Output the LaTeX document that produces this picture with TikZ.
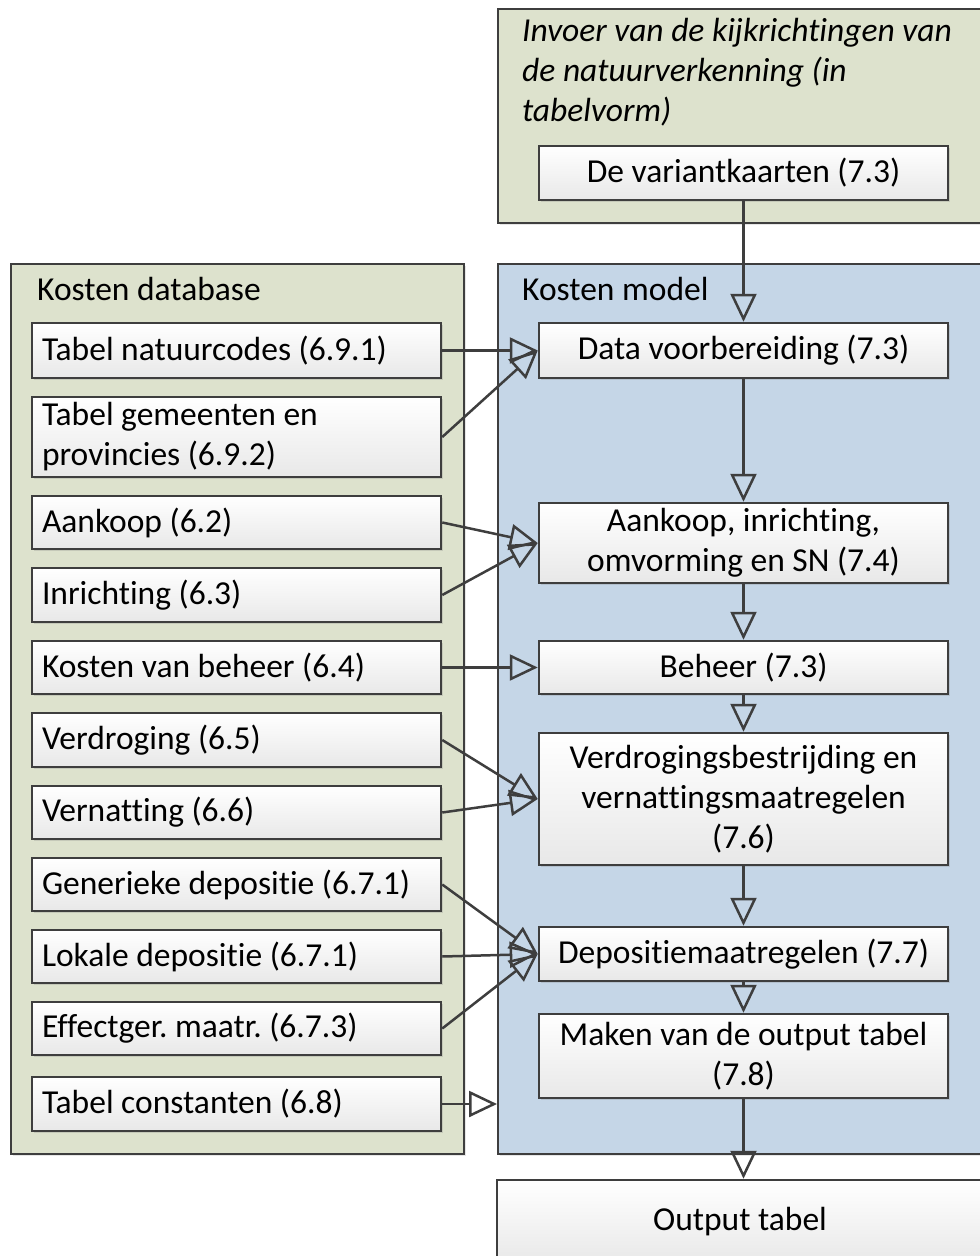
\documentclass[tikz,border=0pt]{standalone}
\usepackage{fontspec}
\setmainfont{Carlito}[Ligatures=NoCommon]
\usepackage{tikz}
\usetikzlibrary{arrows.meta,shadows}
\definecolor{dbgroen}{RGB}{221,226,205}
\definecolor{modelblauw}{RGB}{197,214,231}
\definecolor{lijn}{RGB}{62,62,62}
\frenchspacing

\begin{document}
\begin{tikzpicture}[x=1pt,y=-1pt,
    font=\fontsize{33.5}{40}\selectfont,
    groep/.style={draw=lijn, line width=1.5pt, anchor=north west, inner sep=0pt,
        drop shadow={shadow xshift=2pt, shadow yshift=-2pt, opacity=0.2}},
    blok/.style={draw=lijn, line width=2.5pt, top color=white, bottom color=black!9,
        minimum width=409pt, inner xsep=10pt, inner ysep=0pt,
        drop shadow={shadow xshift=2pt, shadow yshift=-2pt, opacity=0.25}},
    links/.style={blok, align=flush left, text width=389pt},
    rechts/.style={blok, align=center},
    pijl/.style={draw=lijn, line width=2.5pt, -{Triangle[open, length=28pt, width=26pt]}}
]
    \useasboundingbox (0,0) rectangle (980,1256);

    % Containers
    \node[groep, fill=dbgroen, minimum width=488pt, minimum height=214pt] (invoer) at (497,8) {};
    \node[groep, fill=dbgroen, minimum width=453pt, minimum height=890pt] (kdb) at (10,263) {};
    \node[groep, fill=modelblauw, minimum width=488pt, minimum height=890pt] (km) at (497,263) {};

    % Titels
    \node[anchor=north west, inner sep=0pt, align=left, font=\fontsize{33.5}{40}\selectfont\itshape]
        (invoertitel) at (522,18) {Invoer van de kijkrichtingen van\\de natuurverkenning (in\\tabelvorm)};
    \node[anchor=base west, inner sep=0pt] (kdbtitel) at (37,300) {Kosten database};
    \node[anchor=base west, inner sep=0pt] (kmtitel) at (522,300) {Kosten model};

    % Kosten database
    \node[links, minimum height=55pt] (tn) at (236.5,350.5) {Tabel natuurcodes (6.9.1)};
    \node[links, minimum height=80pt] (tg) at (236.5,437) {Tabel gemeenten en\\provincies (6.9.2)};
    \node[links, minimum height=53pt] (ak) at (236.5,522.5) {Aankoop (6.2)};
    \node[links, minimum height=54pt] (ir) at (236.5,595) {Inrichting (6.3)};
    \node[links, minimum height=53pt] (kb) at (236.5,667.5) {Kosten van beheer (6.4)};
    \node[links, minimum height=54pt] (vd) at (236.5,740) {Verdroging (6.5)};
    \node[links, minimum height=53pt] (vn) at (236.5,812.5) {Vernatting (6.6)};
    \node[links, minimum height=53pt] (gd) at (236.5,884.5) {Generieke depositie (6.7.1)};
    \node[links, minimum height=53pt] (ld) at (236.5,956.5) {Lokale depositie (6.7.1)};
    \node[links, minimum height=53pt] (ef) at (236.5,1028.5) {Effectger. maatr. (6.7.3)};
    \node[links, minimum height=54pt] (tc) at (236.5,1104) {Tabel constanten (6.8)};

    % Kosten model
    \node[rechts, minimum height=54pt] (vk) at (743.5,173) {De variantkaarten (7.3)};
    \node[rechts, minimum height=55pt] (dv) at (743.5,350.5) {Data voorbereiding (7.3)};
    \node[rechts, minimum height=80pt] (ai) at (743.5,543) {Aankoop, inrichting,\\omvorming en SN (7.4)};
    \node[rechts, minimum height=53pt] (bh) at (743.5,667.5) {Beheer (7.3)};
    \node[rechts, minimum height=132pt] (vb) at (743.5,799) {Verdrogingsbestrijding en\\vernattingsmaatregelen\\(7.6)};
    \node[rechts, minimum height=54pt] (dp) at (743.5,954) {Depositiemaatregelen (7.7)};
    \node[rechts, minimum height=84pt] (mk) at (743.5,1056) {Maken van de output tabel\\(7.8)};
    \node[blok, minimum width=486pt, minimum height=84pt] (out) at (740,1222) {Output tabel};

    % Pijlen
    \draw[pijl] (vk.south) -- (dv.north);
    \draw[pijl] (tn.east) -- (dv.west);
    \draw[pijl] (tg.east) -- (dv.west);
    \draw[pijl] (dv.south) -- (ai.north);
    \draw[pijl] (ak.east) -- (ai.west);
    \draw[pijl] (ir.east) -- (ai.west);
    \draw[pijl] (ai.south) -- (bh.north);
    \draw[pijl] (kb.east) -- (bh.west);
    \draw[pijl] (bh.south) -- (vb.north);
    \draw[pijl] (vd.east) -- (vb.west);
    \draw[pijl] (vn.east) -- (vb.west);
    \draw[pijl] (vb.south) -- (dp.north);
    \draw[pijl] (gd.east) -- (dp.west);
    \draw[pijl] (ld.east) -- (dp.west);
    \draw[pijl] (ef.east) -- (dp.west);
    \draw[pijl] (dp.south) -- (mk.north);
    \draw[pijl] (tc.east) -- (tc.east -| km.west);
    \draw[pijl] (mk.south) -- (mk.south |- out.north);
\end{tikzpicture}
\end{document}
